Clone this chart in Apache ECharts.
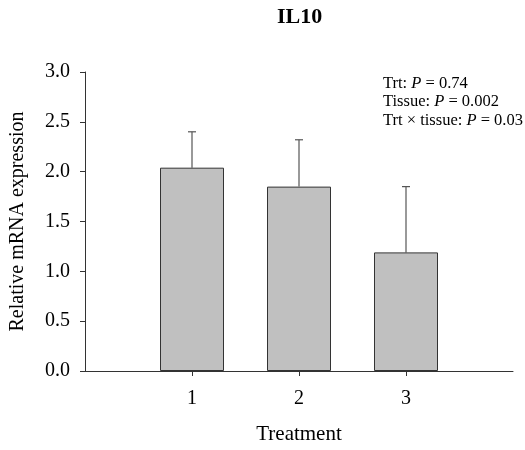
<!DOCTYPE html>
<html>
<head>
<meta charset="utf-8">
<script src="https://cdn.jsdelivr.net/npm/echarts@6/dist/echarts.min.js"></script>
<style>
    html,body{margin:0;padding:0;background:#fff;}
    #chart{width:525px;height:450px;}
</style>
</head>
<body>
<div id="chart"></div>
<script>
(function(){

    var treatments = [1, 2, 3];
    var means = [2.04, 1.85, 1.19];
    var errors = [0.36, 0.47, 0.66];
    var yTicks = ['0.0', '0.5', '1.0', '1.5', '2.0', '2.5', '3.0'];
    var pLines = [
        ['Trt: ', '0.74'],
        ['Tissue: ', '0.002'],
        ['Trt \u00d7 tissue: ', '0.03']
    ];

    var font = '"Liberation Serif", "Times New Roman", serif';
    var chart = echarts.init(document.getElementById('chart'));

    var barData = [];
    var errData = [];
    for(var i=0;i<treatments.length;i++){
        barData.push([treatments[i], means[i]]);
        errData.push([treatments[i], means[i], means[i] + errors[i]]);
    }

    // P value annotation, P in italics
    var pText = pLines.map(function(l){
        return l[0] + '{i|P} = ' + l[1];
    }).join('\n');

    var option = {
        animation:false,
        title:[
            {
                text:'IL10',
                left:272,
                top:1,
                textStyle:{fontFamily:font,fontSize:22,fontWeight:'bold',color:'#000'}
            },
            {
                text:pText,
                left:378,
                top:69,
                textStyle:{
                    fontFamily:font,fontSize:16.5,fontWeight:'normal',color:'#000',lineHeight:18.5,
                    rich:{i:{fontFamily:font,fontSize:16.5,fontStyle:'italic',color:'#000',lineHeight:18.5}}
                }
            }
        ],
        grid:{left:85,right:12,top:72,bottom:78},
        xAxis:{
            type:'value',
            min:0,
            max:4,
            interval:1,
            name:'Treatment',
            nameLocation:'middle',
            nameGap:53,
            nameTextStyle:{fontFamily:font,fontSize:21,color:'#000'},
            splitLine:{show:false},
            axisLine:{show:true,lineStyle:{color:'#333',width:1}},
            axisTick:{show:true,length:5,lineStyle:{color:'#333'},
                customValues:treatments},
            axisLabel:{
                fontFamily:font,fontSize:20,color:'#000',margin:18,
                customValues:treatments
            }
        },
        yAxis:{
            type:'value',
            min:0,
            max:3,
            interval:0.5,
            name:'Relative mRNA expression',
            nameLocation:'middle',
            nameGap:57,
            nameTextStyle:{fontFamily:font,fontSize:20,color:'#000'},
            splitLine:{show:false},
            axisLine:{show:true,lineStyle:{color:'#333',width:1}},
            axisTick:{show:true,length:5,lineStyle:{color:'#333'}},
            axisLabel:{
                fontFamily:font,fontSize:20,color:'#000',margin:15,
                formatter:function(v){ return yTicks[Math.round(v*2)]; }
            }
        },
        series:[
            {
                type:'bar',
                data:barData,
                barWidth:64,
                itemStyle:{color:'#c0c0c0',borderColor:'#333',borderWidth:1}
            },
            {
                type:'custom',
                data:errData,
                z:1,
                renderItem:function(params, api){
                    var x = api.value(0);
                    var lo = api.coord([x, api.value(1)]);
                    var hi = api.coord([x, api.value(2)]);
                    var style = {stroke:'#555',lineWidth:1.2};
                    return {
                        type:'group',
                        children:[
                            {type:'line',shape:{x1:lo[0],y1:lo[1],x2:hi[0],y2:hi[1]},style:style},
                            {type:'line',shape:{x1:hi[0]-4,y1:hi[1],x2:hi[0]+4,y2:hi[1]},style:style}
                        ]
                    };
                }
            }
        ]
    };

    chart.setOption(option);

})();
</script>
</body>
</html>
